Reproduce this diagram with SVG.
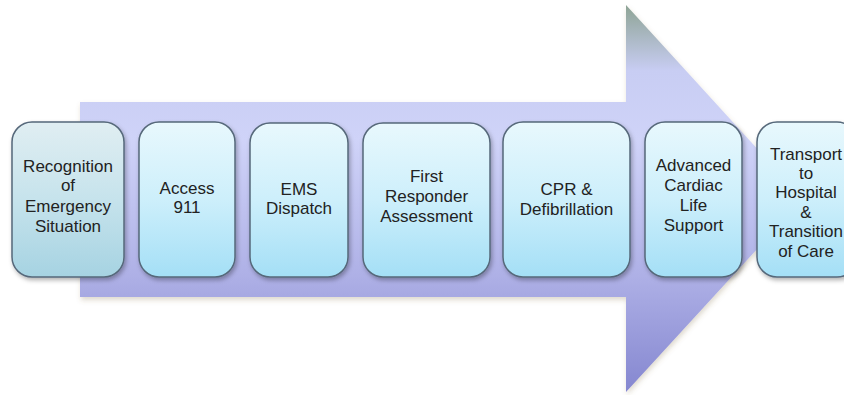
<svg xmlns="http://www.w3.org/2000/svg" width="844" height="395" viewBox="0 0 844 395">
<defs>
<linearGradient id="arrowGrad" x1="0" y1="5" x2="0" y2="392" gradientUnits="userSpaceOnUse">
<stop offset="0" stop-color="#8ea495"/>
<stop offset="0.17" stop-color="#c8cdf3"/>
<stop offset="0.35" stop-color="#cfd3f8"/>
<stop offset="0.7" stop-color="#aeb0e6"/>
<stop offset="1" stop-color="#8587d0"/>
</linearGradient>
<linearGradient id="boxGrad" x1="0" y1="0" x2="0" y2="1">
<stop offset="0" stop-color="#e8f8fd"/>
<stop offset="0.5" stop-color="#cdeffb"/>
<stop offset="1" stop-color="#a4dff6"/>
</linearGradient>
<linearGradient id="boxGrad1" x1="0" y1="0" x2="0" y2="1">
<stop offset="0" stop-color="#e0eef2"/>
<stop offset="0.5" stop-color="#c6e3ec"/>
<stop offset="1" stop-color="#a6d3e2"/>
</linearGradient>
<filter id="shadow" x="-10%" y="-10%" width="130%" height="130%">
<feDropShadow dx="1.5" dy="2.5" stdDeviation="2" flood-color="#000" flood-opacity="0.3"/>
</filter>
<filter id="ashadow" x="-10%" y="-10%" width="130%" height="130%">
<feDropShadow dx="1" dy="3" stdDeviation="2.5" flood-color="#7a6a40" flood-opacity="0.25"/>
</filter>
</defs>
<style>
.box { stroke: #56687a; stroke-width: 1.5; filter: url(#shadow); }
.lbl { font-family: "Liberation Sans", Arial, sans-serif; font-size: 17px; fill: #222222; text-anchor: middle; }
</style>
<g id="arrow">
<path d="M80 102 L626 102 L626 5 L803 199 L626 392 L626 297 L80 297 Z" fill="url(#arrowGrad)" filter="url(#ashadow)"/>
</g>
<g id="connectors"></g>
<g id="n1">
<rect class="box" x="12" y="122" width="112" height="155" rx="20" fill="url(#boxGrad1)"/>
<text class="lbl"><tspan x="68" y="172">Recognition</tspan><tspan x="68" y="191">of</tspan><tspan x="68" y="212">Emergency</tspan><tspan x="68" y="232">Situation</tspan></text>
</g>
<g id="n2">
<rect class="box" x="139" y="122" width="96" height="155" rx="20" fill="url(#boxGrad)"/>
<text class="lbl"><tspan x="187" y="194">Access</tspan><tspan x="187" y="213">911</tspan></text>
</g>
<g id="n3">
<rect class="box" x="250" y="123" width="98" height="154" rx="20" fill="url(#boxGrad)"/>
<text class="lbl"><tspan x="299" y="195">EMS</tspan><tspan x="299" y="214">Dispatch</tspan></text>
</g>
<g id="n4">
<rect class="box" x="363" y="123" width="127" height="154" rx="20" fill="url(#boxGrad)"/>
<text class="lbl"><tspan x="426.5" y="182">First</tspan><tspan x="426.5" y="202">Responder</tspan><tspan x="426.5" y="222">Assessment</tspan></text>
</g>
<g id="n5">
<rect class="box" x="503" y="122" width="127" height="155" rx="20" fill="url(#boxGrad)"/>
<text class="lbl"><tspan x="566.5" y="195">CPR &amp;</tspan><tspan x="566.5" y="215">Defibrillation</tspan></text>
</g>
<g id="n6">
<rect class="box" x="645" y="122" width="97" height="155" rx="20" fill="url(#boxGrad)"/>
<text class="lbl"><tspan x="693.5" y="171">Advanced</tspan><tspan x="693.5" y="191">Cardiac</tspan><tspan x="693.5" y="211">Life</tspan><tspan x="693.5" y="231">Support</tspan></text>
</g>
<g id="n7">
<rect class="box" x="757" y="122" width="100" height="155" rx="20" fill="url(#boxGrad)"/>
<text class="lbl"><tspan x="806" y="160">Transport</tspan><tspan x="806" y="179">to</tspan><tspan x="806" y="198">Hospital</tspan><tspan x="806" y="218">&amp;</tspan><tspan x="806" y="237">Transition</tspan><tspan x="806" y="257">of Care</tspan></text>
</g>
</svg>
